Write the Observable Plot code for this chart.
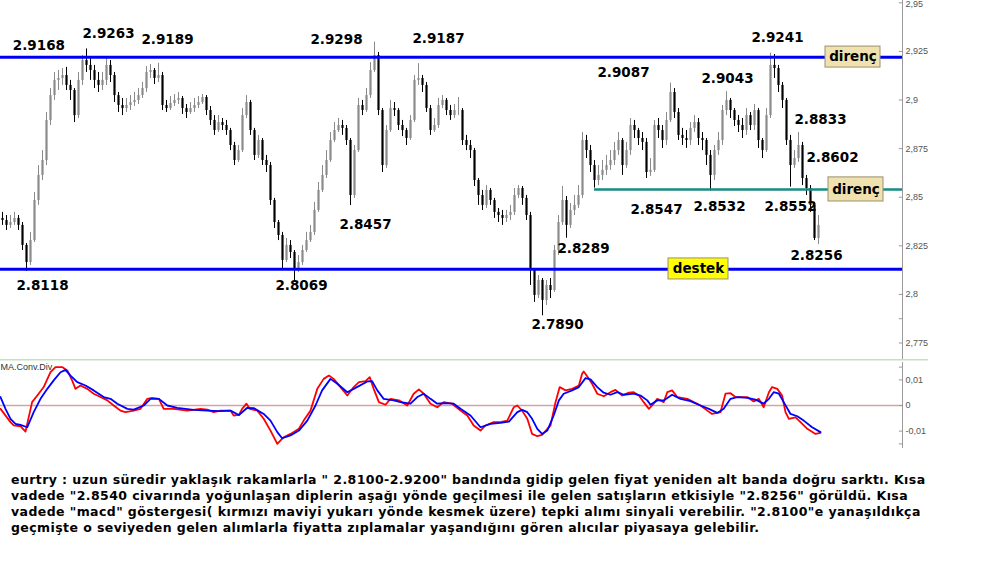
<!DOCTYPE html>
<html><head><meta charset="utf-8">
<script src="https://cdn.jsdelivr.net/npm/d3@7"></script>
<script src="https://cdn.jsdelivr.net/npm/@observablehq/plot@0.6"></script>
<style>
html,body{margin:0;padding:0;background:#fff;}
#main svg,#macd svg{display:block;overflow:visible;}
#note{margin:20px 0 0 11px;font-family:"DejaVu Sans",Verdana,sans-serif;font-weight:bold;font-size:12.5px;letter-spacing:0.42px;line-height:16px;color:#000;white-space:nowrap;}
</style></head><body>
<div id="main"></div><div id="macd"></div><div id="note"></div>
<script>
// ---- EUR/TRY candles (hourly) ----
const firstOpen = 2.8391;
const close = [
2.8380,2.8355,2.8370,2.8391,2.8355,2.8252,2.8164,2.8277,2.8483,2.8612,
2.8689,2.8895,2.9023,2.9101,2.9111,2.9126,2.9075,2.9049,2.8920,2.9101,
2.9203,2.9178,2.9152,2.9101,2.9075,2.9101,2.9178,2.9126,2.9023,2.8972,
2.8956,2.8972,2.8987,2.8998,2.9023,2.9059,2.9142,2.9152,2.9111,2.9126,
2.8972,2.8956,2.8982,2.8998,2.9008,2.8956,2.8936,2.8956,2.8972,2.8987,
2.9013,2.8946,2.8895,2.8843,2.8884,2.8869,2.8843,2.8766,2.8689,2.8740,
2.8920,2.8987,2.8843,2.8715,2.8792,2.8689,2.8663,2.8483,2.8370,2.8303,
2.8175,2.8252,2.8216,2.8133,2.8164,2.8226,2.8277,2.8319,2.8432,2.8535,
2.8612,2.8689,2.8792,2.8843,2.8869,2.8854,2.8792,2.8509,2.8740,2.8972,
2.8946,2.9023,2.9152,2.9229,2.8946,2.8663,2.8843,2.8956,2.8946,2.8869,
2.8843,2.8802,2.8895,2.9101,2.9111,2.9075,2.8956,2.8843,2.8869,2.8972,
2.8998,2.8946,2.8920,2.8946,2.8946,2.8792,2.8766,2.8740,2.8586,2.8509,
2.8458,2.8535,2.8483,2.8422,2.8406,2.8391,2.8406,2.8422,2.8509,2.8545,
2.8494,2.8406,2.8123,2.7995,2.8072,2.7969,2.8046,2.8020,2.8226,2.8370,
2.8483,2.8355,2.8432,2.8458,2.8509,2.8792,2.8740,2.8663,2.8586,2.8612,
2.8638,2.8663,2.8689,2.8740,2.8792,2.8663,2.8740,2.8869,2.8843,2.8802,
2.8782,2.8627,2.8638,2.8869,2.8843,2.8792,2.8895,2.9039,2.8936,2.8818,
2.8802,2.8792,2.8854,2.8884,2.8802,2.8792,2.8715,2.8612,2.8740,2.8792,
2.8946,2.8998,2.8946,2.8895,2.8869,2.8843,2.8920,2.8869,2.8946,2.8792,
2.8740,2.8920,2.9178,2.9162,2.9075,2.8998,2.8792,2.8663,2.8699,2.8766,
2.8596,2.8545,2.8458,2.8288,2.8355];
const high = [
2.8422,2.8406,2.8406,2.8422,2.8406,2.8370,2.8262,2.8319,2.8524,2.8663,
2.8740,2.8936,2.9059,2.9142,2.9152,2.9162,2.9168,2.9101,2.9059,2.9142,
2.9229,2.9263,2.9214,2.9178,2.9142,2.9142,2.9219,2.9203,2.9142,2.9039,
2.9008,2.9008,2.9023,2.9039,2.9059,2.9090,2.9172,2.9183,2.9162,2.9189,
2.9142,2.8998,2.9018,2.9028,2.9039,2.9018,2.8977,2.8987,2.9008,2.9018,
2.9028,2.9023,2.8967,2.8920,2.8920,2.8905,2.8895,2.8854,2.8782,2.8766,
2.8956,2.9023,2.8998,2.8854,2.8818,2.8802,2.8715,2.8679,2.8494,2.8380,
2.8319,2.8288,2.8277,2.8226,2.8200,2.8252,2.8319,2.8355,2.8473,2.8576,
2.8663,2.8740,2.8833,2.8884,2.8905,2.8895,2.8869,2.8802,2.8766,2.9008,
2.8998,2.9059,2.9193,2.9298,2.9245,2.8956,2.8869,2.8998,2.8987,2.8956,
2.8895,2.8854,2.8920,2.9126,2.9187,2.9126,2.9090,2.8972,2.8905,2.9008,
2.9023,2.9008,2.8972,2.8977,2.9013,2.8956,2.8818,2.8792,2.8751,2.8596,
2.8535,2.8560,2.8545,2.8494,2.8442,2.8432,2.8432,2.8458,2.8545,2.8560,
2.8555,2.8509,2.8422,2.8133,2.8097,2.8082,2.8072,2.8082,2.8252,2.8406,
2.8555,2.8504,2.8468,2.8509,2.8560,2.8833,2.8818,2.8766,2.8689,2.8663,
2.8689,2.8715,2.8740,2.8782,2.8833,2.8802,2.8782,2.8905,2.8895,2.8854,
2.8833,2.8802,2.8699,2.8895,2.8905,2.8869,2.8936,2.9087,2.9059,2.8956,
2.8854,2.8843,2.8884,2.8920,2.8905,2.8833,2.8802,2.8740,2.8766,2.8833,
2.8972,2.9043,2.9008,2.8956,2.8920,2.8905,2.8956,2.8936,2.8977,2.8956,
2.8802,2.8956,2.9241,2.9234,2.9178,2.9090,2.9008,2.8818,2.8740,2.8833,
2.8782,2.8612,2.8560,2.8473,2.8406];
const low = [
2.8355,2.8329,2.8339,2.8355,2.8329,2.8226,2.8118,2.8149,2.8267,2.8458,
2.8586,2.8663,2.8869,2.8998,2.9049,2.9075,2.9049,2.8998,2.8884,2.8905,
2.9075,2.9142,2.9101,2.9059,2.9039,2.9049,2.9075,2.9090,2.8987,2.8936,
2.8920,2.8936,2.8946,2.8967,2.8977,2.9008,2.9039,2.9111,2.9080,2.9090,
2.8946,2.8936,2.8946,2.8967,2.8977,2.8926,2.8905,2.8926,2.8936,2.8956,
2.8977,2.8920,2.8869,2.8818,2.8833,2.8843,2.8818,2.8740,2.8663,2.8679,
2.8730,2.8905,2.8818,2.8689,2.8699,2.8663,2.8627,2.8458,2.8339,2.8277,
2.8133,2.8164,2.8185,2.8069,2.8113,2.8149,2.8216,2.8267,2.8303,2.8422,
2.8524,2.8596,2.8679,2.8782,2.8833,2.8818,2.8766,2.8457,2.8494,2.8730,
2.8920,2.8936,2.9008,2.9142,2.8920,2.8627,2.8648,2.8833,2.8915,2.8843,
2.8812,2.8766,2.8792,2.8884,2.9075,2.9039,2.8936,2.8818,2.8833,2.8854,
2.8956,2.8920,2.8895,2.8905,2.8920,2.8766,2.8740,2.8699,2.8555,2.8458,
2.8432,2.8442,2.8458,2.8391,2.8370,2.8355,2.8370,2.8380,2.8406,2.8494,
2.8458,2.8380,2.8046,2.7959,2.7979,2.7890,2.7943,2.7979,2.8010,2.8200,
2.8355,2.8289,2.8339,2.8406,2.8442,2.8494,2.8699,2.8627,2.8547,2.8560,
2.8586,2.8612,2.8638,2.8663,2.8715,2.8612,2.8648,2.8715,2.8802,2.8766,
2.8740,2.8596,2.8607,2.8627,2.8802,2.8751,2.8766,2.8884,2.8905,2.8792,
2.8766,2.8751,2.8766,2.8833,2.8766,2.8740,2.8663,2.8532,2.8586,2.8715,
2.8766,2.8920,2.8905,2.8864,2.8833,2.8802,2.8818,2.8843,2.8843,2.8751,
2.8699,2.8730,2.8905,2.9111,2.9039,2.8956,2.8766,2.8552,2.8648,2.8679,
2.8560,2.8509,2.8422,2.8277,2.8256];

// ---- horizontal levels ----
const levelDirenc = 2.9220;
const levelDestek = 2.8130;
const levelTeal = 2.8540;
const tealStartIdx = 148;
const panelSplit = 2.7664;

// ---- price annotations: text, candle index, price at baseline ----
const labelText  = ["2.9168","2.9263","2.9189","2.9298","2.9187","2.9087","2.9043","2.9241","2.8833","2.8602","2.8547","2.8532","2.8552","2.8256","2.8457","2.8289","2.7890","2.8118","2.8069"];
const labelIdx   = [9.1,26.5,41.25,83.5,109,155.25,181.25,193.75,204.5,207.5,163.5,179.25,197,203.5,90.75,145.25,138.75,10,74.75];
const labelPrice = [2.9255,2.9317,2.9286,2.9286,2.9291,2.9116,2.9090,2.9296,2.8879,2.8679,2.8416,2.8427,2.8427,2.8175,2.8339,2.8211,2.7820,2.8025,2.8025];

// ---- boxed notes ----
const boxText = ["direnç","direnç","destek"];
const boxX1 = [205.75,206.5,166.5];
const boxX2 = [219.5,220.25,181.5];
const boxLo = [2.9167,2.8478,2.8077];
const boxHi = [2.9275,2.8602,2.8185];

// ---- axis ticks ----
const yTicks = [2.775,2.8,2.825,2.85,2.875,2.9,2.925,2.95];
const yMinor = [2.7875];
const macdTicks = [-0.01,0,0.01];
const macdMinor = [-0.015,0.015];

// ---- MACD (red) and signal (blue): [candle index, value] ----
const macdRed = [[-0.5,-0.0013],[2,-0.0065],[2.8,-0.0078],[4.5,-0.0081],[5.75,-0.0102],[7.4,0.0013],[8.7,0.0039],[10.3,0.0072],[12,0.0130],[13.25,0.0150],[14.9,0.0150],[16.2,0.0137],[17.4,0.0098],[18.25,0.0065],[19.5,0.0078],[21.2,0.0065],[22.8,0.0046],[24.5,0.0033],[26.2,0.0020],[27.8,0.0000],[29.5,-0.0020],[30.75,-0.0026],[32.8,-0.0020],[34.5,-0.0013],[36.2,0.0026],[37.4,0.0030],[39.1,0.0026],[40.3,-0.0013],[42.8,-0.0013],[46.2,-0.0020],[49.5,-0.0013],[51.2,-0.0016],[52.8,-0.0026],[54.5,-0.0020],[57,-0.0020],[57.8,-0.0039],[59.1,-0.0037],[59.9,-0.0013],[61,0.0007],[61.8,-0.0013],[63.7,-0.0020],[65.3,-0.0052],[67,-0.0098],[68.7,-0.0150],[70.3,-0.0124],[72,-0.0111],[74.1,-0.0091],[75.3,-0.0059],[77,-0.0020],[78.7,0.0065],[80.3,0.0104],[81.6,0.0117],[82.8,0.0104],[84.5,0.0072],[86.2,0.0039],[87.8,0.0072],[89.1,0.0091],[90.75,0.0095],[91.8,0.0111],[92.8,0.0065],[94.1,0.0013],[95.75,0.0003],[97,0.0026],[99.1,0.0020],[101.2,0.0000],[102.8,0.0046],[104.1,0.0063],[105.3,0.0046],[107,0.0007],[108.7,-0.0007],[110.3,0.0013],[112.4,0.0007],[114.5,-0.0020],[116.2,-0.0039],[117.8,-0.0078],[119.5,-0.0098],[120.75,-0.0078],[122.8,-0.0065],[124.5,-0.0065],[126.2,-0.0059],[127.8,-0.0007],[128.7,0.0000],[129.9,-0.0020],[131.2,-0.0052],[132.4,-0.0111],[133.7,-0.0120],[134.9,-0.0115],[137,-0.0078],[138.25,0.0013],[139.3,0.0072],[140.75,0.0059],[142.4,0.0065],[144.1,0.0078],[144.9,0.0124],[145.3,0.0133],[146.3,0.0111],[147.4,0.0085],[148.7,0.0046],[150.3,0.0036],[152,0.0052],[153.25,0.0061],[154.9,0.0039],[156.6,0.0050],[157.8,0.0052],[159.1,0.0039],[160.3,0.0013],[161.6,-0.0013],[162.4,0.0000],[163.7,0.0026],[165.3,0.0013],[166.2,0.0052],[167.4,0.0059],[168.7,0.0033],[171.2,0.0026],[172.8,0.0013],[174.5,0.0000],[176.2,-0.0020],[177.4,-0.0033],[179.5,-0.0026],[180.75,0.0046],[182,0.0048],[183.25,0.0033],[184.5,0.0033],[186.2,0.0033],[187.8,0.0016],[189.1,0.0026],[190.3,-0.0007],[191.6,0.0052],[192.4,0.0072],[193.7,0.0065],[194.9,0.0039],[195.75,-0.0026],[196.6,-0.0052],[198.25,-0.0046],[199.5,-0.0065],[201.2,-0.0091],[203.25,-0.0111],[204.5,-0.0107]];
const macdBlue = [[-0.5,0.0033],[0.75,-0.0013],[2,-0.0052],[3.25,-0.0072],[4.5,-0.0076],[6.2,-0.0085],[7.8,-0.0026],[9.5,0.0026],[11.2,0.0065],[12.8,0.0098],[14.5,0.0130],[15.75,0.0139],[17,0.0117],[18.7,0.0091],[20.75,0.0078],[22.8,0.0059],[25.3,0.0033],[27,0.0026],[28.7,0.0007],[31.2,-0.0013],[32.8,-0.0016],[35.3,0.0000],[37,0.0026],[39.1,0.0026],[41.2,0.0000],[43.7,-0.0009],[47.8,-0.0017],[51.2,-0.0020],[54.5,-0.0022],[57,-0.0020],[59.1,-0.0037],[61.2,-0.0009],[62.8,-0.0010],[65.3,-0.0033],[67,-0.0059],[68.7,-0.0104],[69.9,-0.0128],[72,-0.0117],[74.1,-0.0098],[76.2,-0.0059],[78.25,0.0000],[79.9,0.0059],[82,0.0104],[83.7,0.0085],[86.2,0.0052],[87.8,0.0065],[91.2,0.0094],[92.4,0.0095],[93.7,0.0059],[95.3,0.0026],[97.8,0.0020],[99.5,0.0013],[102,0.0007],[103.7,0.0033],[105.3,0.0046],[107,0.0026],[108.7,0.0007],[110.3,0.0009],[112.8,0.0007],[114.5,-0.0013],[117,-0.0039],[119.5,-0.0085],[122,-0.0072],[124.5,-0.0068],[126.6,-0.0063],[128.7,-0.0026],[129.9,-0.0017],[131.2,-0.0026],[132.4,-0.0052],[133.7,-0.0091],[134.9,-0.0111],[136.2,-0.0098],[137.8,-0.0039],[139.1,0.0020],[140.3,0.0046],[142.4,0.0059],[144.1,0.0072],[145.75,0.0107],[147,0.0102],[148.7,0.0072],[150.3,0.0050],[152,0.0042],[153.7,0.0052],[155.3,0.0042],[157.8,0.0046],[159.5,0.0039],[161.2,0.0020],[162,0.0003],[163.7,0.0020],[165.3,0.0020],[167.4,0.0042],[169.5,0.0026],[172,0.0017],[174.5,0.0000],[176.6,-0.0013],[178.7,-0.0029],[180.3,-0.0013],[182,0.0026],[183.7,0.0033],[186.2,0.0030],[188.25,0.0023],[190.3,0.0007],[191.6,0.0026],[192.8,0.0052],[194.1,0.0046],[195.3,0.0013],[197,-0.0033],[198.7,-0.0042],[200.3,-0.0059],[202.4,-0.0085],[204.5,-0.0104]];

const noteLines = [
  "eurtry : uzun süredir yaklaşık rakamlarla \" 2.8100-2.9200\" bandında gidip gelen fiyat yeniden alt banda doğru sarktı. Kısa",
  "vadede \"2.8540 civarında yoğunlaşan diplerin aşağı yönde geçilmesi ile gelen satışların etkisiyle \"2.8256\" görüldü. Kısa",
  "vadede \"macd\" göstergesi( kırmızı maviyi yukarı yönde kesmek üzere) tepki alımı sinyali verebilir. \"2.8100\"e yanaşıldıkça",
  "geçmişte o seviyeden gelen alımlarla fiyatta zıplamalar yaşandığını gören alıcılar piyasaya gelebilir."
];

// ---- build tables ----
const candles = close.map((c, i) => {
  const o = i === 0 ? firstOpen : close[i - 1];
  return {i, open: o, close: c, high: Math.max(high[i], o, c), low: Math.min(low[i], o, c)};
});
const labels = labelText.map((t, k) => ({t, i: labelIdx[k], p: labelPrice[k]}));
const boxes = boxText.map((t, k) => ({t, x1: boxX1[k], x2: boxX2[k], y1: boxLo[k], y2: boxHi[k]}));

const xDomain = [-0.5, 225];
const xRight = 225;
const commaFmt = d => String(d).replace(".", ",");
const candleColor = d => d.close >= d.open ? "#8a8a8a" : "#000000";
const labelFont = "'DejaVu Sans', Verdana, sans-serif";
const yTop = yTicks[yTicks.length - 1];

const main = Plot.plot({
  width: 1000, height: 360,
  marginLeft: 0, marginRight: 98, marginTop: 0, marginBottom: 0,
  x: {domain: xDomain, axis: null},
  y: {domain: [2.7660, 2.9512], axis: null},
  style: {fontFamily: "'Liberation Sans', Arial, sans-serif", fontSize: "9px", background: "#fff", overflow: "visible"},
  marks: [
    Plot.ruleX(candles, {x: "i", y1: "low", y2: "high", stroke: candleColor, strokeWidth: 1}),
    Plot.ruleX(candles, {x: "i", y1: "open", y2: "close", stroke: candleColor, strokeWidth: 2.2}),
    Plot.ruleY([levelDirenc], {stroke: "#0000f0", strokeWidth: 3}),
    Plot.ruleY([levelDestek], {stroke: "#0000f0", strokeWidth: 3}),
    Plot.ruleY([levelTeal], {x1: tealStartIdx, x2: xRight, stroke: "#178b85", strokeWidth: 2.5}),
    Plot.text(labels, {x: "i", y: "p", text: "t", lineAnchor: "bottom", fontFamily: labelFont, fontWeight: "bold", fontSize: 13.5, fill: "#000"}),
    Plot.rect(boxes, {x1: "x1", x2: "x2", y1: "y1", y2: "y2", fill: d => d.t === "destek" ? "#ffff00" : "#efe2b0", stroke: "#9c8f6c", strokeWidth: 1}),
    Plot.text(boxes, {x: d => (d.x1 + d.x2) / 2, y: d => (d.y1 + d.y2) / 2, text: "t", fontFamily: labelFont, fontWeight: "bold", fontSize: 13.5, fill: "#000"}),
    Plot.ruleX([xRight], {stroke: "#9a9a9a"}),
    Plot.ruleY(yTicks.concat(yMinor), {x1: 224.2, x2: xRight, stroke: "#9a9a9a"}),
    Plot.axisY(yTicks.filter(t => t < yTop), {anchor: "right", tickSize: 0, tickPadding: 3, tickFormat: commaFmt, fill: "#555", fontSize: 9}),
    Plot.text([yTop], {x: xRight, y: d => d, text: commaFmt, textAnchor: "start", lineAnchor: "top", dx: 3, dy: -2, fill: "#555", fontSize: 9}),
    Plot.ruleY([panelSplit], {x1: -0.5, x2: 231.5, stroke: "#bfe5bf", strokeWidth: 1.5})
  ]
});
document.getElementById("main").append(main);

const macd = Plot.plot({
  width: 1000, height: 92,
  marginLeft: 0, marginRight: 98, marginTop: 0, marginBottom: 0,
  x: {domain: xDomain, axis: null},
  y: {domain: [-0.018359, 0.017578], axis: null},
  style: {fontFamily: "'Liberation Sans', Arial, sans-serif", fontSize: "9px", background: "#fff", overflow: "visible"},
  marks: [
    Plot.ruleY([0], {stroke: "#d6a3a3", strokeWidth: 1.5}),
    Plot.line(macdRed, {x: d => d[0], y: d => d[1], stroke: "#ff0000", strokeWidth: 1.8}),
    Plot.line(macdBlue, {x: d => d[0], y: d => d[1], stroke: "#0000ff", strokeWidth: 1.8}),
    Plot.ruleX([xRight], {y1: 0.0168, y2: -0.0168, stroke: "#9a9a9a"}),
    Plot.ruleY(macdTicks.concat(macdMinor), {x1: 224.2, x2: xRight, stroke: "#9a9a9a"}),
    Plot.axisY(macdTicks, {anchor: "right", tickSize: 0, tickPadding: 3, tickFormat: commaFmt, fill: "#555", fontSize: 9}),
    Plot.text(["MA.Conv.Div"], {frameAnchor: "top-left", lineAnchor: "top", textAnchor: "start", dx: 0, dy: 3, fontSize: 9, fill: "#333"})
  ]
});
document.getElementById("macd").append(macd);

document.getElementById("note").innerHTML = noteLines.map(s => s.replace(/&/g, "&amp;").replace(/</g, "&lt;")).join("<br>");
</script>
</body></html>
